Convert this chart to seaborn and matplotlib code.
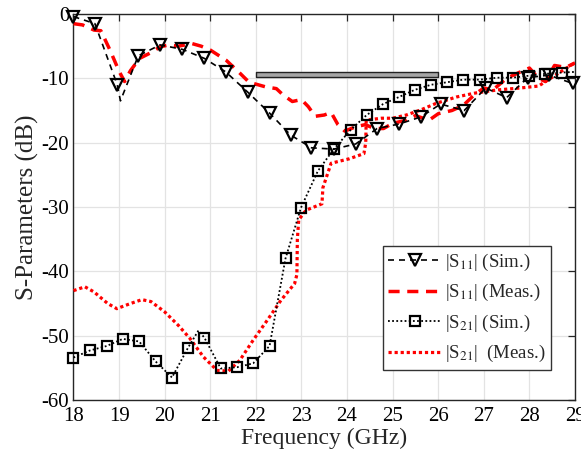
import matplotlib
matplotlib.use("Agg")
import matplotlib.pyplot as plt
import seaborn as sns
import pandas as pd
import numpy as np

# ---------------- data ----------------
s11_sim_f = [18.0, 18.47, 18.96, 19.03, 19.42, 19.9, 20.39, 20.87, 21.34, 21.83, 22.3, 22.76,
             23.22, 23.71, 24.19, 24.66, 25.14, 25.62, 26.05, 26.57, 27.04, 27.5, 27.96, 28.43, 28.95]
s11_sim_db = [-0.4, -1.5, -11.0, -13.5, -6.5, -4.8, -5.5, -6.9, -9.0, -12.2, -15.4, -18.8,
              -20.8, -21.0, -20.2, -17.8, -17.1, -16.0, -14.0, -15.0, -11.5, -13.0, -9.9, -9.5, -10.8]
s11_sim_marks = [0, 1, 2, 4, 5, 6, 7, 8, 9, 10, 11, 12, 13, 14, 15, 16, 17, 18, 19, 20, 21, 22, 23, 24]

s11_meas_f = [18.0, 18.2, 18.45, 18.6, 18.8, 19.0, 19.12, 19.25, 19.45, 19.7, 19.9, 20.1, 20.3,
              20.6, 20.8, 21.0, 21.35, 21.65, 21.85, 22.05, 22.2, 22.45, 22.6, 22.8, 23.0, 23.15,
              23.3, 23.5, 23.65, 23.8, 23.95, 24.2, 24.4, 24.6, 24.8, 25.0, 25.3, 25.5, 25.8, 26.0,
              26.3, 26.55, 26.8, 27.0, 27.2, 27.5, 27.8, 28.0, 28.2, 28.35, 28.55, 28.8, 29.0]
s11_meas_db = [-1.5, -1.7, -2.5, -2.6, -5.6, -8.9, -10.5, -8.8, -6.9, -6.0, -5.1, -4.8, -5.0,
               -4.6, -5.0, -5.6, -7.2, -9.2, -10.6, -11.0, -11.3, -11.6, -12.6, -13.6, -13.3, -14.4,
               -15.9, -15.7, -15.3, -17.2, -18.2, -17.5, -17.2, -17.8, -17.8, -17.0, -16.5, -15.8,
               -16.5, -15.5, -15.0, -14.2, -12.5, -11.5, -11.8, -10.0, -9.0, -8.4, -10.0, -10.5,
               -8.0, -8.3, -7.6]

s21_sim_f = [18.0, 18.36, 18.73, 19.08, 19.44, 19.8, 20.16, 20.51, 20.74, 20.87, 21.23, 21.59,
             21.94, 22.3, 22.65, 22.99, 23.36, 23.71, 24.08, 24.43, 24.79, 25.14, 25.48, 25.84,
             26.2, 26.55, 26.92, 27.29, 27.63, 27.98, 28.35, 28.71, 29.0]
s21_sim_db = [-53.4, -52.3, -51.6, -50.5, -50.9, -54.0, -56.5, -51.9, -49.2, -50.3, -55.1, -54.9,
              -54.3, -51.6, -38.0, -30.1, -24.4, -21.0, -18.0, -15.7, -14.0, -12.9, -11.8, -11.0,
              -10.6, -10.2, -10.2, -9.9, -9.9, -9.6, -9.3, -9.1, -9.0]
s21_sim_marks = [i for i in range(32) if i != 8]

s21_meas_f = [18.0, 18.25, 18.45, 18.75, 18.95, 19.25, 19.5, 19.7, 20.0, 20.3, 20.55, 20.85,
              21.15, 21.4, 21.65, 21.95, 22.25, 22.55, 22.85, 22.9, 22.91, 22.94, 23.1, 23.45,
              23.47, 23.65, 24.05, 24.37, 24.41, 24.42, 24.75, 25.0, 25.3, 25.62, 25.95, 26.4,
              26.8, 27.3, 27.8, 28.2, 28.55, 28.9, 29.0]
s21_meas_db = [-43.0, -42.4, -43.2, -45.0, -45.8, -45.0, -44.4, -44.7, -46.3, -48.4, -50.4, -53.3,
               -55.4, -55.5, -53.8, -50.6, -47.6, -44.5, -41.9, -40.5, -35.0, -32.0, -30.5, -29.5,
               -27.0, -23.2, -22.5, -21.7, -20.0, -16.5, -16.2, -16.2, -15.7, -14.9, -13.9, -12.9,
               -12.3, -11.8, -11.5, -11.2, -9.6, -8.0, -7.6]

band_start, band_end = 22.0, 26.0
band_top, band_bottom = -9.0, -9.85

labels = [r"|S$_{11}$| (Sim.)", r"|S$_{11}$| (Meas.)", r"|S$_{21}$| (Sim.)", r"|S$_{21}$|  (Meas.)"]
x_ticks = list(range(18, 30))
y_ticks = list(range(-60, 1, 10))

# ---------------- style ----------------
sns.set_style("white")
plt.rcParams["font.family"] = ["Liberation Serif", "DejaVu Serif"]
plt.rcParams["mathtext.fontset"] = "stix"
plt.rcParams["axes.unicode_minus"] = False
plt.rcParams["mathtext.default"] = "rm"

fig = plt.figure(figsize=(5.81, 4.59), dpi=100)
ax = fig.add_axes([0.1265, 0.1285, 0.8632, 0.841])

ax.fill_between([band_start, band_end], band_bottom, band_top,
                facecolor="#a6a6a6", edgecolor="#222222", linewidth=1.0, zorder=3)

def df(f, d):
    return pd.DataFrame({"f": f, "db": d})

sns.lineplot(data=df(s21_meas_f, s21_meas_db), x="f", y="db", ax=ax, estimator=None, sort=False,
             color="#ff0000", linewidth=2.3, linestyle=(0, (1, 0.9)), zorder=4)
sns.lineplot(data=df(s11_meas_f, s11_meas_db), x="f", y="db", ax=ax, estimator=None, sort=False,
             color="#ff0000", linewidth=2.5, linestyle=(0, (3.2, 2.2)), zorder=4)
sns.lineplot(data=df(s21_sim_f, s21_sim_db), x="f", y="db", ax=ax, estimator=None, sort=False,
             color="black", linewidth=1.3, linestyle=(0, (1, 1.3)), marker="s", markersize=6.5,
             markerfacecolor="none", markeredgecolor="black", markeredgewidth=1.6,
             markevery=s21_sim_marks, zorder=5, clip_on=False)
sns.lineplot(data=df(s11_sim_f, s11_sim_db), x="f", y="db", ax=ax, estimator=None, sort=False,
             color="black", linewidth=1.2, linestyle=(0, (3.6, 3.0)), marker="v", markersize=8,
             markerfacecolor="none", markeredgecolor="black", markeredgewidth=1.6,
             markevery=s11_sim_marks, zorder=6, clip_on=False)

lines = ax.get_lines()
handles = [lines[3], lines[1], lines[2], lines[0]]

ax.set_xlim(18, 29)
ax.set_ylim(-60, 0)
ax.set_xticks(x_ticks)
ax.set_yticks(y_ticks)
ax.grid(True, color="#e3e3e3", linewidth=0.9)
ax.set_axisbelow(True)
for s in ax.spines.values():
    s.set_color("#262626")
    s.set_linewidth(1.0)
    s.set_visible(True)
ax.tick_params(direction="in", top=True, right=True, length=5, width=0.9,
               labelsize=15, colors="#262626", labelcolor="black")
ax.tick_params(axis="x", pad=5)
ax.tick_params(axis="y", pad=3)
ax.set_xlabel("Frequency (GHz)", fontsize=17, labelpad=1)
ax.set_ylabel("S-Parameters (dB)", fontsize=18, labelpad=2)

leg = ax.legend(handles=handles, labels=labels, loc="lower right",
                bbox_to_anchor=(0.952, 0.078), fontsize=13.5, frameon=True, fancybox=False,
                framealpha=1, edgecolor="#333333", handlelength=2.8, handletextpad=0.2,
                borderpad=0.3, labelspacing=0.5, borderaxespad=0)
leg.get_frame().set_linewidth(1.0)

fig.savefig("out.png", dpi=100)
